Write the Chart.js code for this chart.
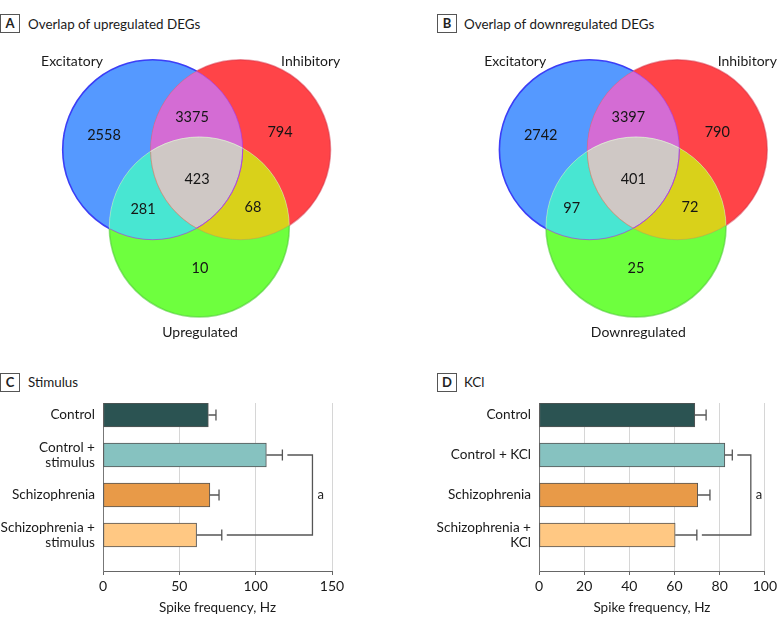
<!DOCTYPE html>
<html>
<head>
<meta charset="utf-8">
<script src="https://cdn.jsdelivr.net/npm/chart.js@4.4.0/dist/chart.umd.min.js"></script>
<style>
  body { margin: 0; background: #fff; }
  #wrap { position: relative; width: 780px; height: 627px; overflow: hidden; font-family: Lato, sans-serif; color: #222; }
  canvas { position: absolute; }
  .box { position: absolute; box-sizing: border-box; width: 20px; height: 19px; border: 1px solid #555; font: bold 13px Lato, sans-serif; text-align: center; line-height: 17px; color: #222; }
  .ttl { position: absolute; font: 13.4px Lato, sans-serif; line-height: 18px; color: #1a1a1a; white-space: nowrap; }
</style>
</head>
<body>
<div id="wrap">
  <div class="box" style="left:0;top:14px;">A</div>
  <div class="ttl" style="left:28px;top:15px;">Overlap of upregulated DEGs</div>
  <div class="box" style="left:437px;top:14px;">B</div>
  <div class="ttl" style="left:464px;top:15px;">Overlap of downregulated DEGs</div>
  <div class="box" style="left:0;top:373px;">C</div>
  <div class="ttl" style="left:28px;top:373px;">Stimulus</div>
  <div class="box" style="left:437px;top:373px;">D</div>
  <div class="ttl" style="left:464px;top:373px;">KCl</div>

  <canvas id="vennA" width="390" height="310" style="left:0;top:40px;"></canvas>
  <canvas id="vennB" width="390" height="310" style="left:390px;top:40px;"></canvas>
  <canvas id="barC" width="390" height="232" style="left:0;top:395px;"></canvas>
  <canvas id="barD" width="390" height="232" style="left:390px;top:395px;"></canvas>
</div>
<script>
// ---------------- DATA ----------------
// Venn region order: [Exc only, Inh only, Third only, Exc∩Inh, Exc∩Third, Inh∩Third, all three]
const vennUpSets = ['Excitatory', 'Inhibitory', 'Upregulated'];
const vennUpCounts = [2558, 794, 10, 3375, 281, 68, 423];
const vennDownSets = ['Excitatory', 'Inhibitory', 'Downregulated'];
const vennDownCounts = [2742, 790, 25, 3397, 97, 72, 401];

const stimCategories = [['Control'], ['Control +', 'stimulus'], ['Schizophrenia'], ['Schizophrenia +', 'stimulus']];
const stimMeans = [69, 107, 70, 61.3];
const stimErrors = [5, 10.5, 6, 16.5];
const stimTicks = [0, 50, 100, 150];

const kclCategories = [['Control'], ['Control + KCl'], ['Schizophrenia'], ['Schizophrenia +', 'KCl']];
const kclMeans = [69, 82.3, 70.3, 60.3];
const kclErrors = [5, 3.3, 5.4, 9.6];
const kclTicks = [0, 20, 40, 60, 80, 100];

// ---------------- STYLE / LAYOUT ----------------
const FONT = 'Lato, sans-serif';
const barColors = ['#2B5352', '#86C2C0', '#E89A48', '#FFC883'];
const vennFills = ['#5599FF', '#FF4448', '#6EFF3E', '#D46CD4', '#48E6D2', '#D9D11A', '#CFC8C5'];
const vennStrokes = ['rgba(55,55,245,0.95)', 'rgba(215,50,70,0.5)', 'rgba(80,205,55,0.6)'];
const vennInnerStrokes = ['rgba(170,60,230,0.7)', 'rgba(200,120,120,0.35)', 'rgba(235,235,235,0.45)'];
const vennCircles = [{ x: 152.7, y: 149.7, r: 90 }, { x: 240.5, y: 149.7, r: 90 }, { x: 199.3, y: 227, r: 90 }];
const vennLayoutA = {
  setPos: [{ x: 72, y: 66 }, { x: 310.7, y: 66 }, { x: 200, y: 337 }],
  countPos: [{ x: 104, y: 135 }, { x: 280, y: 132 }, { x: 200, y: 268 }, { x: 192, y: 117 }, { x: 143, y: 209 }, { x: 253, y: 207 }, { x: 197, y: 179 }]
};
const vennLayoutB = {
  setPos: [{ x: 78.5, y: 66 }, { x: 310.6, y: 66 }, { x: 201.6, y: 337 }],
  countPos: [{ x: 104, y: 135 }, { x: 280.6, y: 132 }, { x: 199.3, y: 268 }, { x: 191.6, y: 117 }, { x: 135, y: 208 }, { x: 253.3, y: 207 }, { x: 196.6, y: 179 }]
};

// ---------------- PLUGINS ----------------
const vennPlugin = {
  id: 'venn',
  beforeDatasetsDraw(chart) {
    const o = chart.options.plugins.venn;
    const xs = chart.scales.x, ys = chart.scales.y, ctx = chart.ctx;
    const W = chart.width, H = chart.height;
    const C = o.circles.map(c => ({
      x: xs.getPixelForValue(c.x), y: ys.getPixelForValue(c.y),
      r: Math.abs(xs.getPixelForValue(c.x + c.r) - xs.getPixelForValue(c.x))
    }));
    const path = c => { ctx.beginPath(); ctx.arc(c.x, c.y, c.r, 0, Math.PI * 2); };
    ctx.save();
    C.forEach((c, i) => { path(c); ctx.fillStyle = o.fills[i]; ctx.fill(); });
    [[0, 1, 3], [0, 2, 4], [1, 2, 5]].forEach(([a, b, k]) => {
      ctx.save(); path(C[a]); ctx.clip(); path(C[b]); ctx.fillStyle = o.fills[k]; ctx.fill(); ctx.restore();
    });
    ctx.save(); path(C[0]); ctx.clip(); path(C[1]); ctx.clip(); path(C[2]); ctx.fillStyle = o.fills[6]; ctx.fill(); ctx.restore();
    C.forEach((c, i) => {
      ctx.save();
      C.forEach((d, j) => {
        if (j === i) return;
        ctx.beginPath(); ctx.rect(0, 0, W, H); ctx.arc(d.x, d.y, d.r, 0, Math.PI * 2, true); ctx.clip();
      });
      path(c); ctx.strokeStyle = o.strokes[i]; ctx.lineWidth = 1.6; ctx.stroke();
      ctx.restore();
    });
    C.forEach((c, i) => {
      C.forEach((d, j) => {
        if (j === i) return;
        ctx.save(); path(d); ctx.clip();
        path(c); ctx.strokeStyle = o.innerStrokes[i]; ctx.lineWidth = 1; ctx.stroke();
        ctx.restore();
      });
    });
    ctx.fillStyle = '#1a1a1a';
    ctx.font = '14px ' + FONT;
    ctx.textAlign = 'center';
    ctx.textBaseline = 'alphabetic';
    o.sets.forEach((s, i) => {
      ctx.fillText(s, xs.getPixelForValue(o.setPos[i].x), ys.getPixelForValue(o.setPos[i].y));
    });
    ctx.restore();
  },
  afterDatasetsDraw(chart) {
    const ctx = chart.ctx;
    const meta = chart.getDatasetMeta(0);
    const ds = chart.data.datasets[0];
    ctx.save();
    ctx.fillStyle = '#151515';
    ctx.font = '14.5px ' + FONT;
    ctx.textAlign = 'center';
    ctx.textBaseline = 'alphabetic';
    meta.data.forEach((pt, i) => { ctx.fillText(String(ds.data[i].v), pt.x, pt.y + 5); });
    ctx.restore();
  }
};

const errPlugin = {
  id: 'errbars',
  afterDatasetsDraw(chart) {
    const o = chart.options.plugins.errbars;
    const ctx = chart.ctx, xs = chart.scales.x;
    const meta = chart.getDatasetMeta(0);
    const ds = chart.data.datasets[0];
    ctx.save();
    ctx.strokeStyle = '#555';
    ctx.lineWidth = 1.3;
    const ends = [];
    meta.data.forEach((bar, i) => {
      const x1 = xs.getPixelForValue(ds.data[i].x + o.errors[i]);
      ctx.beginPath();
      ctx.moveTo(bar.x, bar.y); ctx.lineTo(x1, bar.y);
      ctx.moveTo(x1, bar.y - 5.5); ctx.lineTo(x1, bar.y + 5.5);
      ctx.stroke();
      ends[i] = x1;
    });
    const b = o.bracket;
    const xv = xs.getPixelForValue(b.x);
    const ya = meta.data[b.from].y, yb = meta.data[b.to].y;
    ctx.beginPath();
    ctx.moveTo(ends[b.from] + 5, ya); ctx.lineTo(xv, ya); ctx.lineTo(xv, yb); ctx.lineTo(ends[b.to] + 5, yb);
    ctx.stroke();
    ctx.fillStyle = '#222';
    ctx.font = '13px ' + FONT;
    ctx.textAlign = 'left';
    ctx.textBaseline = 'middle';
    ctx.fillText(b.label, xv + 5, (ya + yb) / 2);
    ctx.restore();
  }
};

// ---------------- CHARTS ----------------
function makeVenn(id, sets, counts, layout, xMin) {
  new Chart(document.getElementById(id), {
    type: 'scatter',
    data: { datasets: [{ data: counts.map((v, i) => ({ x: layout.countPos[i].x, y: layout.countPos[i].y, v })), pointRadius: 0, pointHoverRadius: 0 }] },
    options: {
      responsive: false, animation: false, events: [],
      layout: { padding: 0 },
      plugins: {
        legend: { display: false }, tooltip: { enabled: false },
        venn: { circles: vennCircles, fills: vennFills, strokes: vennStrokes, innerStrokes: vennInnerStrokes, sets, setPos: layout.setPos }
      },
      scales: {
        x: { type: 'linear', display: false, min: xMin, max: xMin + 390 },
        y: { type: 'linear', display: false, min: 40, max: 350, reverse: true }
      }
    },
    plugins: [vennPlugin]
  });
}

function makeBar(id, cats, means, errs, ticks, bracket, yWidth, rightPad) {
  new Chart(document.getElementById(id), {
    type: 'bar',
    data: {
      datasets: [{
        data: means.map((v, i) => ({ x: v, y: i })),
        backgroundColor: barColors, borderColor: '#555', borderWidth: 1,
        barThickness: 24, borderSkipped: false
      }]
    },
    options: {
      indexAxis: 'y', responsive: false, animation: false, events: [],
      layout: { padding: { top: 8, right: rightPad, left: 0, bottom: 0 } },
      plugins: { legend: { display: false }, tooltip: { enabled: false }, errbars: { errors: errs, bracket } },
      scales: {
        x: {
          type: 'linear', min: ticks[0], max: ticks[ticks.length - 1],
          afterBuildTicks: s => { s.ticks = ticks.map(v => ({ value: v })); },
          grid: { color: '#d6d6d6', tickColor: '#666', tickLength: 4, lineWidth: 1 },
          border: { color: '#666', width: 1 },
          ticks: { color: '#1a1a1a', font: { family: FONT, size: 14 }, padding: 3 },
          title: { display: true, text: 'Spike frequency, Hz', color: '#1a1a1a', font: { family: FONT, size: 13.5 }, padding: { top: 4, bottom: 11 } },
          afterFit: s => { s.height = 56; }
        },
        y: {
          type: 'linear', reverse: true, min: -0.3, max: 3.9, offset: false,
          afterBuildTicks: s => { s.ticks = cats.map((c, i) => ({ value: i })); },
          ticks: { callback: v => cats[v], color: '#1a1a1a', font: { family: FONT, size: 13.6, lineHeight: 1.1 }, padding: 8 },
          grid: { display: false, drawTicks: false, offset: false },
          border: { display: true, color: '#777', width: 1 },
          afterFit: s => { s.width = yWidth; s.paddingTop = 0; s.paddingBottom = 0; }
        }
      }
    },
    plugins: [errPlugin]
  });
}

makeVenn('vennA', vennUpSets, vennUpCounts, vennLayoutA, 0);
makeVenn('vennB', vennDownSets, vennDownCounts, vennLayoutB, -46.7);
makeBar('barC', stimCategories, stimMeans, stimErrors, stimTicks, { from: 1, to: 3, x: 137.2, label: 'a' }, 103, 58);
makeBar('barD', kclCategories, kclMeans, kclErrors, kclTicks, { from: 1, to: 3, x: 93.8, label: 'a' }, 149, 12);
</script>
</body>
</html>
